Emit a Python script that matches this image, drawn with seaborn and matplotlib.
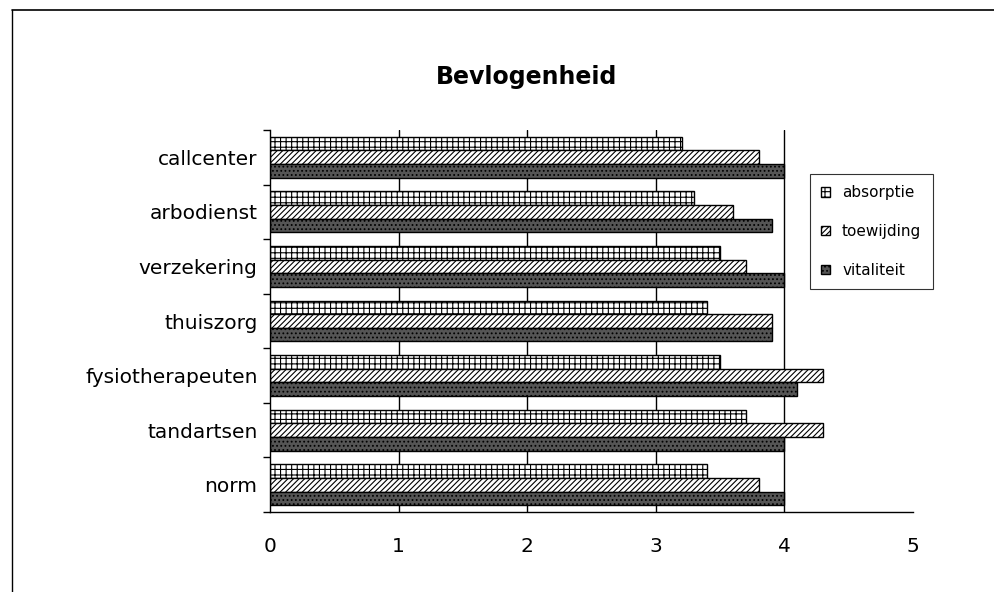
import matplotlib
matplotlib.use("Agg")
import matplotlib.pyplot as plt
import seaborn as sns
import pandas as pd
import numpy as np
from matplotlib.patches import Patch
from matplotlib.lines import Line2D

categories = ["callcenter", "arbodienst", "verzekering", "thuiszorg",
              "fysiotherapeuten", "tandartsen", "norm"]
series = ["absorptie", "toewijding", "vitaliteit"]
absorptie = [3.2, 3.3, 3.5, 3.4, 3.5, 3.7, 3.4]
toewijding = [3.8, 3.6, 3.7, 3.9, 4.3, 4.3, 3.8]
vitaliteit = [4.0, 3.9, 4.0, 3.9, 4.1, 4.0, 4.0]
x_ticks = [0, 1, 2, 3, 4, 5]

df = pd.DataFrame({
    "categorie": categories * 3,
    "reeks": [s for s in series for _ in categories],
    "waarde": absorptie + toewijding + vitaliteit,
})

sns.set_style("white")
plt.rcParams["font.family"] = ["DejaVu Sans"]
plt.rcParams["text.color"] = "black"
plt.rcParams["xtick.color"] = "black"
plt.rcParams["ytick.color"] = "black"
plt.rcParams["hatch.linewidth"] = 0.8

fig = plt.figure(figsize=(9.95, 5.92), dpi=100)
ax = fig.add_axes([270/995, 1-512/592, 643/995, 382/592])

styles = {
    "absorptie": dict(face="white", hatch="+++"),
    "toewijding": dict(face="white", hatch="//////"),
    "vitaliteit": dict(face="#555555", hatch="...."),
}

sns.barplot(data=df, y="categorie", x="waarde", hue="reeks",
            order=categories, hue_order=series, orient="h",
            palette=["white", "white", "#555555"], width=0.75,
            edgecolor="black", linewidth=1.0, saturation=1,
            legend=False, ax=ax)

for cont, s in zip(ax.containers, series):
    for bar in cont:
        bar.set_facecolor(styles[s]["face"])
        bar.set_hatch(styles[s]["hatch"])
        bar.set_edgecolor("black")

ax.set_xlim(0, 5)
ax.set_xticks(x_ticks)
ax.set_xticklabels([str(t) for t in x_ticks], fontsize=14.5, color="black")
ax.set_xlabel("")
ax.set_ylabel("")
ax.tick_params(axis="x", direction="out", length=8, width=1, pad=10, colors="black")
ax.set_yticks(list(range(len(categories))), minor=False)
ax.set_yticklabels(categories, fontsize=14.5, color="black")
ax.tick_params(axis="y", which="major", length=0, pad=9)
ax.set_yticks(list(np.arange(-0.5, len(categories), 1.0)), minor=True)
ax.tick_params(axis="y", which="minor", direction="out", length=5, width=1, left=True)

for t in [1, 2, 3, 4]:
    ax.axvline(t, color="black", lw=1, zorder=0)

for side in ["top", "right"]:
    ax.spines[side].set_visible(False)
for side in ["left", "bottom"]:
    ax.spines[side].set_color("black")
    ax.spines[side].set_linewidth(1)

handles = [Patch(facecolor=styles[s]["face"], hatch=styles[s]["hatch"],
                 edgecolor="black", label=s) for s in series]
leg = fig.legend(handles=handles, loc="upper left",
                 bbox_to_anchor=(810/995, 1-174/592), fontsize=11,
                 frameon=True, fancybox=False, edgecolor="black",
                 handlelength=0.55, handleheight=0.55, labelspacing=1.55,
                 borderpad=0.75, handletextpad=0.8, borderaxespad=0)
leg.get_frame().set_linewidth(0.8)

fig.text(527/995, 1-77/592, "Bevlogenheid", ha="center", va="center",
         fontsize=17, fontweight="bold")

# outer frame (page border)
fig.add_artist(Line2D([12/995, 1.0], [1-10/592, 1-10/592], color="black", lw=1.2,
                      transform=fig.transFigure))
fig.add_artist(Line2D([12/995, 12/995], [0, 1-10/592], color="black", lw=1.0,
                      transform=fig.transFigure))

fig.savefig("out.png", dpi=100)
